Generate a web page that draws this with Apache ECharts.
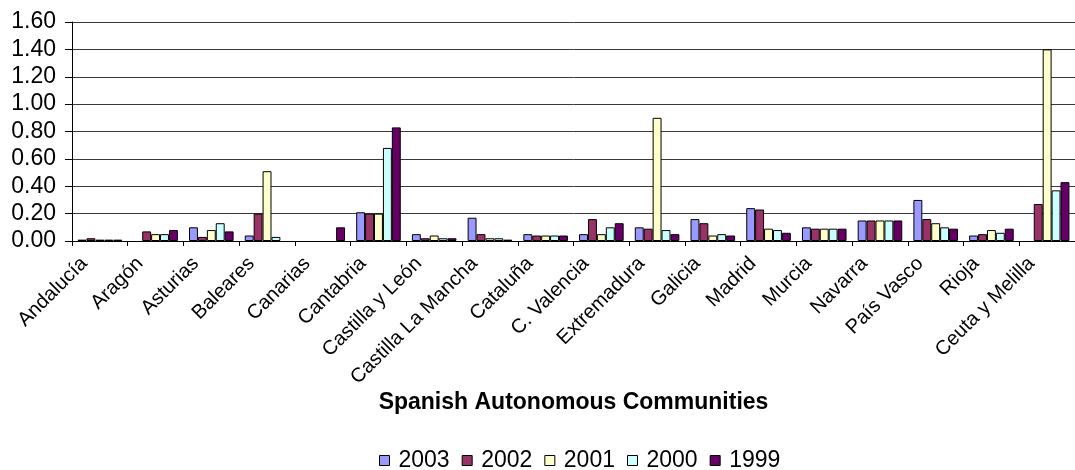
<!DOCTYPE html>
<html>
<head>
<meta charset="utf-8">
<script src="https://cdn.jsdelivr.net/npm/echarts@6/dist/echarts.min.js"></script>
<style>
  html, body { margin: 0; padding: 0; background: #fff; }
  #chart { width: 1075px; height: 470px; }
</style>
</head>
<body>
<div id="chart"></div>
<script>
// Spanish autonomous communities, yearly values 1999-2003
const communities = [
  'Andalucía', 'Aragón', 'Asturias', 'Baleares', 'Canarias', 'Cantabria',
  'Castilla y León', 'Castilla La Mancha', 'Cataluña', 'C. Valencia',
  'Extremadura', 'Galicia', 'Madrid', 'Murcia', 'Navarra', 'País Vasco',
  'Rioja', 'Ceuta y Melilla'
];
const years = ['2003', '2002', '2001', '2000', '1999'];
const colors = ['#9999FF', '#993366', '#FFFFCC', '#CCFFFF', '#660066'];

const v2003 = [0.01, null, 0.10, 0.04, null, 0.21, 0.05, 0.17, 0.05, 0.05, 0.10, 0.16, 0.24, 0.10, 0.15, 0.30, 0.04, null];
const v2002 = [0.02, 0.07, 0.03, 0.20, null, 0.20, 0.02, 0.05, 0.04, 0.16, 0.09, 0.13, 0.23, 0.09, 0.15, 0.16, 0.05, 0.27];
const v2001 = [0.01, 0.05, 0.08, 0.51, null, 0.20, 0.04, 0.02, 0.04, 0.05, 0.90, 0.04, 0.09, 0.09, 0.15, 0.13, 0.08, 1.40];
const v2000 = [0.01, 0.05, 0.13, 0.03, null, 0.68, 0.02, 0.02, 0.04, 0.10, 0.08, 0.05, 0.08, 0.09, 0.15, 0.10, 0.06, 0.37];
const v1999 = [0.01, 0.08, 0.07, null, 0.10, 0.83, 0.02, 0.01, 0.04, 0.13, 0.05, 0.04, 0.06, 0.09, 0.15, 0.09, 0.09, 0.43];

const yearValues = [v2003, v2002, v2001, v2000, v1999];

const FONT = '"Liberation Sans", Arial, sans-serif';

const chart = echarts.init(document.getElementById('chart'), null, { renderer: 'canvas' });

chart.setOption({
  animation: false,
  textStyle: { fontFamily: FONT, color: '#000' },
  grid: { left: 72, top: 22, width: 1010, height: 219, containLabel: false },
  xAxis: {
    type: 'category',
    data: communities,
    name: 'Spanish Autonomous Communities',
    nameLocation: 'middle',
    nameGap: 148,
    nameTextStyle: { fontFamily: FONT, fontSize: 23, fontWeight: 'bold', color: '#000' },
    axisLine: { show: true, lineStyle: { color: '#000', width: 1 } },
    axisTick: { show: true, length: 5, alignWithLabel: false, lineStyle: { color: '#000' } },
    axisLabel: {
      interval: 0,
      rotate: 45,
      margin: 4,
      padding: [0, 22, 0, 0],
      fontFamily: FONT,
      fontSize: 20,
      color: '#000'
    },
    splitLine: { show: false }
  },
  yAxis: {
    type: 'value',
    min: 0,
    max: 1.6,
    interval: 0.2,
    axisLine: { show: true, lineStyle: { color: '#000', width: 1 } },
    axisTick: { show: true, length: 7, inside: false, lineStyle: { color: '#000' } },
    axisLabel: {
      margin: 16,
      fontFamily: FONT,
      fontSize: 23,
      color: '#000',
      formatter: v => v.toFixed(2)
    },
    splitLine: { show: true, lineStyle: { color: '#3a3a3a', width: 1 } }
  },
  legend: {
    data: years,
    top: 444,
    left: 374,
    itemWidth: 10,
    itemHeight: 10,
    itemGap: 12,
    icon: 'rect',
    textStyle: { fontFamily: FONT, fontSize: 23, color: '#000', padding: [0, 0, 0, 4] },
    itemStyle: { borderColor: '#000', borderWidth: 1 }
  },
  series: years.map((y, i) => ({
    name: y,
    type: 'bar',
    data: yearValues[i],
    barGap: '0%',
    barCategoryGap: '20%',
    itemStyle: { color: colors[i], borderColor: '#000', borderWidth: 1 }
  }))
});
</script>
</body>
</html>
